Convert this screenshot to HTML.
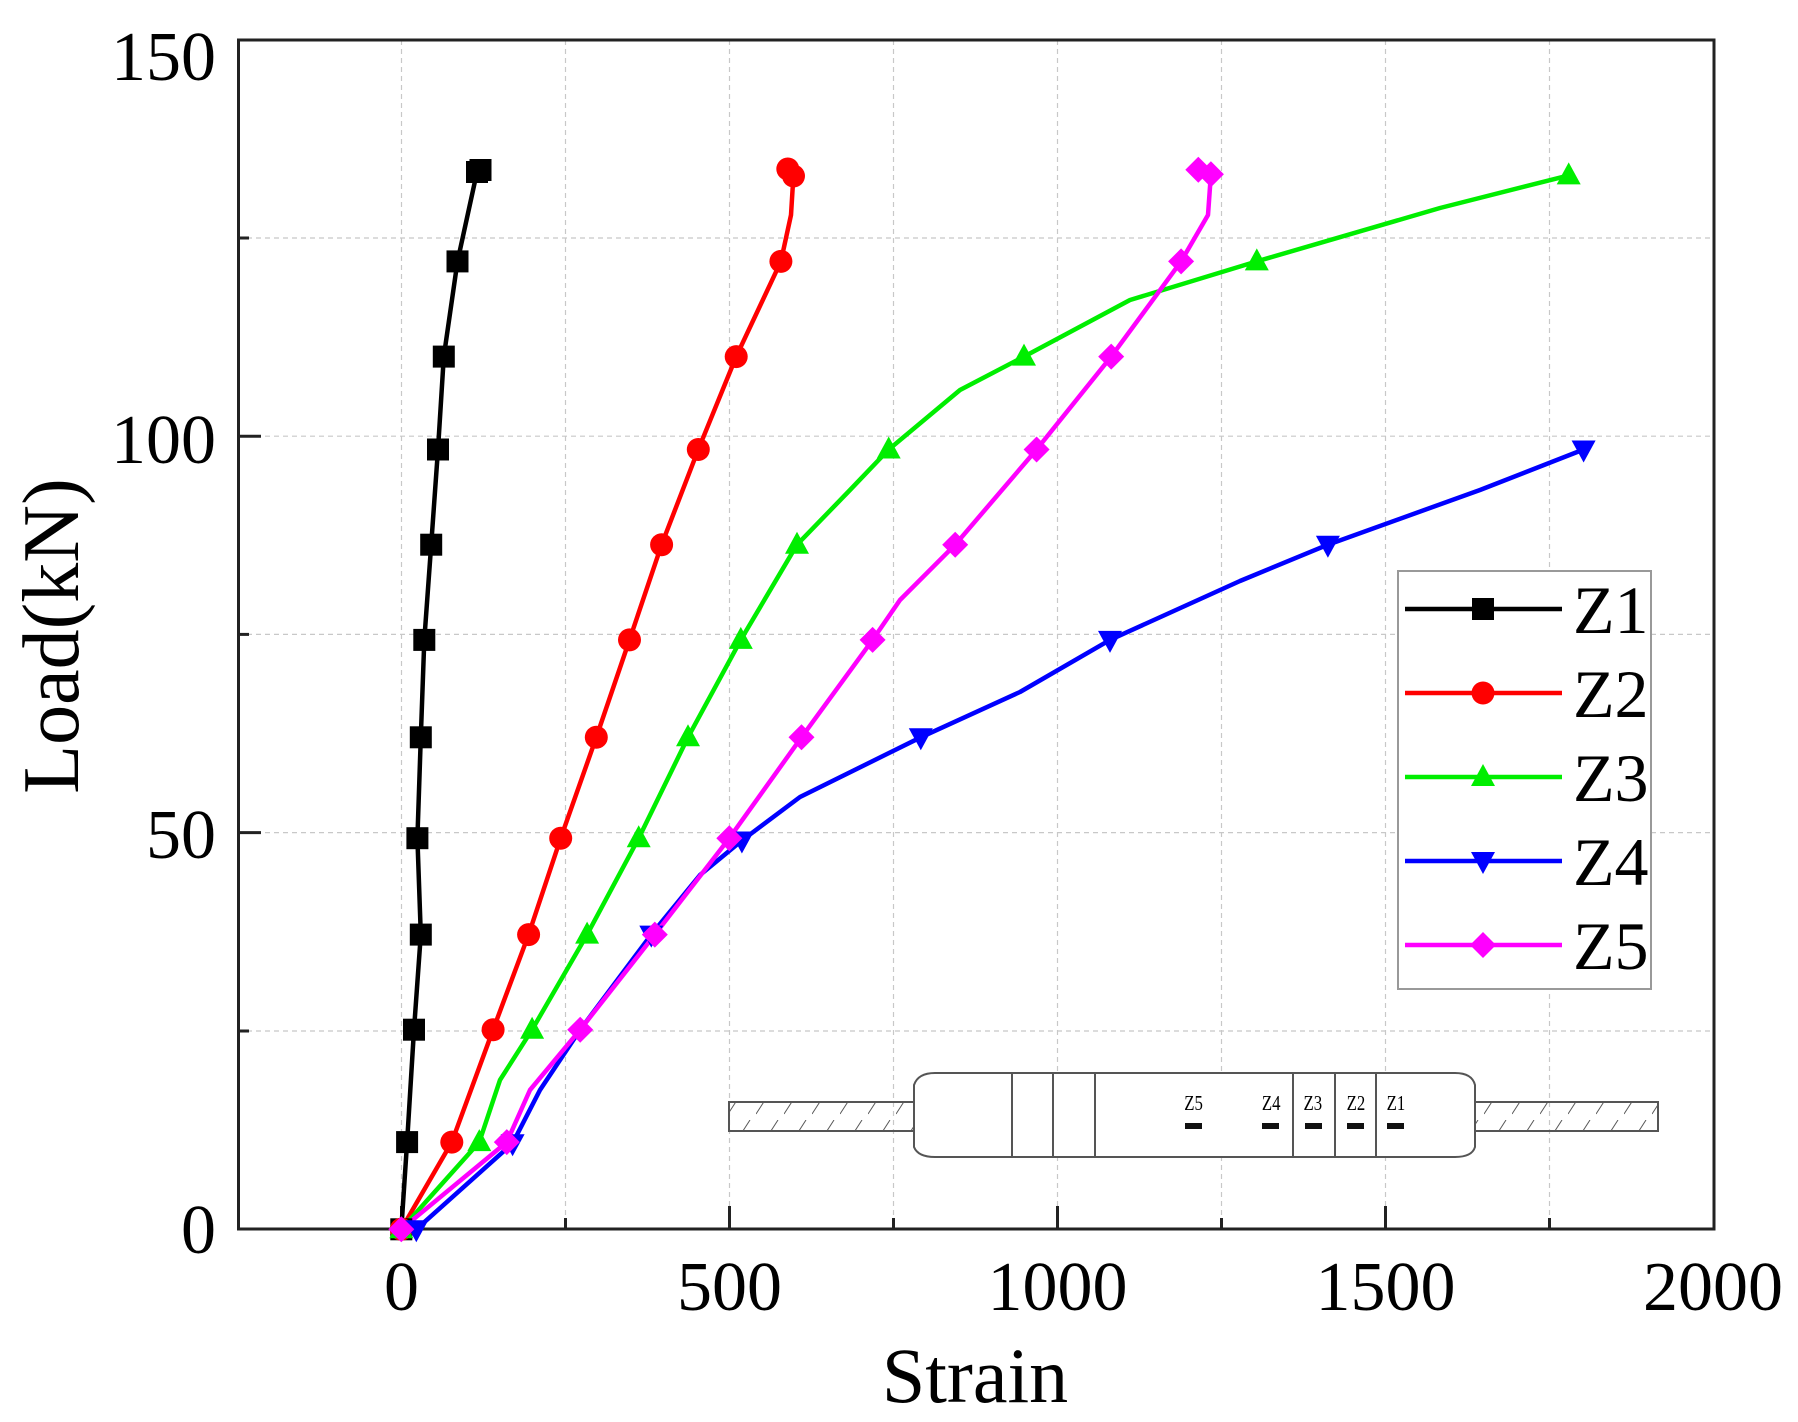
<!DOCTYPE html>
<html><head><meta charset="utf-8"><style>
html,body{margin:0;padding:0;background:#fff}
svg{display:block}
text{font-family:"Liberation Serif",serif;fill:#000}
</style></head><body>
<svg width="1798" height="1422" viewBox="0 0 1798 1422" xmlns="http://www.w3.org/2000/svg">
<defs>
<g id="sq"><rect x="-11" y="-11" width="22" height="22"/></g>
<g id="ci"><circle r="11.5"/></g>
<g id="tu"><polygon points="0,-13 12,9 -12,9"/></g>
<g id="td"><polygon points="0,13 12,-9 -12,-9"/></g>
<g id="di"><polygon points="0,-13 13,0 0,13 -13,0"/></g>
<pattern id="hatch" width="28" height="40" patternUnits="userSpaceOnUse"><line x1="0" y1="34" x2="22" y2="0" stroke="#555" stroke-width="1"/></pattern>
</defs>
<g stroke="#c8c8c8" stroke-width="1.2" stroke-dasharray="5,4">
<line x1="401.5" y1="40" x2="401.5" y2="1229"/>
<line x1="565.5" y1="40" x2="565.5" y2="1229"/>
<line x1="729.5" y1="40" x2="729.5" y2="1229"/>
<line x1="893.5" y1="40" x2="893.5" y2="1229"/>
<line x1="1057.5" y1="40" x2="1057.5" y2="1229"/>
<line x1="1221.5" y1="40" x2="1221.5" y2="1229"/>
<line x1="1385.5" y1="40" x2="1385.5" y2="1229"/>
<line x1="1549.5" y1="40" x2="1549.5" y2="1229"/>
<line x1="238" y1="1031" x2="1714" y2="1031"/>
<line x1="238" y1="832.6" x2="1714" y2="832.6"/>
<line x1="238" y1="634.4" x2="1714" y2="634.4"/>
<line x1="238" y1="436.2" x2="1714" y2="436.2"/>
<line x1="238" y1="238" x2="1714" y2="238"/>
</g>
<rect x="238.5" y="40" width="1475.5" height="1189" fill="none" stroke="#222" stroke-width="3"/>
<g stroke="#222" stroke-width="3">
<line x1="401.5" y1="1229" x2="401.5" y2="1206"/>
<line x1="565.5" y1="1229" x2="565.5" y2="1218"/>
<line x1="729.5" y1="1229" x2="729.5" y2="1206"/>
<line x1="893.5" y1="1229" x2="893.5" y2="1218"/>
<line x1="1057.5" y1="1229" x2="1057.5" y2="1206"/>
<line x1="1221.5" y1="1229" x2="1221.5" y2="1218"/>
<line x1="1385.5" y1="1229" x2="1385.5" y2="1206"/>
<line x1="1549.5" y1="1229" x2="1549.5" y2="1218"/>
<line x1="238.5" y1="1031" x2="249" y2="1031"/>
<line x1="238.5" y1="832.6" x2="261" y2="832.6"/>
<line x1="238.5" y1="634.4" x2="249" y2="634.4"/>
<line x1="238.5" y1="436.2" x2="261" y2="436.2"/>
<line x1="238.5" y1="238" x2="249" y2="238"/>
</g>
<g font-size="70" text-anchor="middle">
<text x="401.5" y="1310">0</text>
<text x="729.5" y="1310">500</text>
<text x="1057.5" y="1310">1000</text>
<text x="1385.5" y="1310">1500</text>
<text x="1713" y="1310">2000</text>
</g>
<g font-size="70" text-anchor="end">
<text x="216" y="1253">0</text>
<text x="216" y="858">50</text>
<text x="216" y="463">100</text>
<text x="216" y="80">150</text>
</g>
<text x="975" y="1402" font-size="78" text-anchor="middle">Strain</text>
<text transform="translate(78,636) rotate(-90)" font-size="80" text-anchor="middle">Load(kN)</text>

<g stroke="#555" stroke-width="2" fill="#fff">
<rect x="729" y="1102" width="186" height="29" fill="url(#hatch)"/>
<rect x="1475" y="1102" width="183" height="29" fill="url(#hatch)"/>
<path d="M914,1085 Q918,1073 935,1073 L1455,1073 Q1472,1073 1475,1085 L1475,1147 Q1472,1157 1455,1157 L935,1157 Q918,1157 914,1147 Z"/>
<line x1="1012" y1="1073" x2="1012" y2="1157"/>
<line x1="1053" y1="1073" x2="1053" y2="1157"/>
<line x1="1095" y1="1073" x2="1095" y2="1157"/>
<line x1="1293" y1="1073" x2="1293" y2="1157"/>
<line x1="1335" y1="1073" x2="1335" y2="1157"/>
<line x1="1376" y1="1073" x2="1376" y2="1157"/>
</g>
<g font-size="21" text-anchor="middle" transform="scale(0.8,1)">
<text x="1492" y="1110">Z5</text>
<text x="1589" y="1110">Z4</text>
<text x="1641" y="1110">Z3</text>
<text x="1695" y="1110">Z2</text>
<text x="1745" y="1110">Z1</text>
</g>
<g fill="#111">
<rect x="1185" y="1123" width="17" height="6"/>
<rect x="1262" y="1123" width="17" height="6"/>
<rect x="1305" y="1123" width="17" height="6"/>
<rect x="1347" y="1123" width="17" height="6"/>
<rect x="1387" y="1123" width="17" height="6"/>
</g>

<g fill="none" stroke-width="4.5" stroke-linejoin="round">
<polyline stroke="#000" points="401.3,1229.3 407.1,1142.1 414,1029.7 420.8,934.6 417.4,838.2 420.8,737.3 424.3,639.9 431.2,544.7 438,449.5 443.8,356.6 457.5,261.4 477,172 480.5,168.6"/>
<polyline stroke="#ff0000" points="401.3,1229.3 451.8,1142.1 493.1,1029.7 528.6,934.6 560.7,838.2 596.3,737.3 629.5,639.9 661.6,544.7 698.3,449.5 736.2,356.6 780.9,261.4 791,215 793.5,174.3 787.8,168.6"/>
<polyline stroke="#00ee00" points="401.3,1229.3 479.3,1142.1 500,1080 532.1,1029.7 587.1,934.6 638.7,838.2 688,737.3 740.8,639.9 797,544.7 850,490 888.7,449.5 960,390 1024,356.6 1130,300 1256.8,261.4 1440,208 1568.7,175.4"/>
<polyline stroke="#0000ff" points="416.3,1229.3 512.6,1143.3 540,1090 580.2,1029.7 651.3,934.6 700,875 741.9,840.5 800,797 920.8,737.3 1020,692 1110,639.9 1240,581 1327.9,544.7 1480,490 1583.6,449.5"/>
<polyline stroke="#ff00ff" points="401.3,1229.3 506.8,1142.1 530,1090 580.2,1029.7 654.8,934.6 729.3,838.2 801.5,737.3 872.6,639.9 900,600 955.2,544.7 1036.6,449.5 1111.2,356.6 1181.1,261.4 1208,215 1210.9,174.3 1198.3,169.7"/>
</g>
<g fill="#000">
<use href="#sq" x="401.3" y="1229.3"/><use href="#sq" x="407.1" y="1142.1"/><use href="#sq" x="414" y="1029.7"/><use href="#sq" x="420.8" y="934.6"/><use href="#sq" x="417.4" y="838.2"/><use href="#sq" x="420.8" y="737.3"/><use href="#sq" x="424.3" y="639.9"/><use href="#sq" x="431.2" y="544.7"/><use href="#sq" x="438" y="449.5"/><use href="#sq" x="443.8" y="356.6"/><use href="#sq" x="457.5" y="261.4"/><use href="#sq" x="477" y="172"/><use href="#sq" x="480.5" y="170"/>
</g>
<g fill="#ff0000">
<use href="#ci" x="401.3" y="1229.3"/><use href="#ci" x="451.8" y="1142.1"/><use href="#ci" x="493.1" y="1029.7"/><use href="#ci" x="528.6" y="934.6"/><use href="#ci" x="560.7" y="838.2"/><use href="#ci" x="596.3" y="737.3"/><use href="#ci" x="629.5" y="639.9"/><use href="#ci" x="661.6" y="544.7"/><use href="#ci" x="698.3" y="449.5"/><use href="#ci" x="736.2" y="356.6"/><use href="#ci" x="780.9" y="261.4"/><use href="#ci" x="793.5" y="176"/><use href="#ci" x="787.8" y="169"/>
</g>
<g fill="#00ee00">
<use href="#tu" x="401.3" y="1229.3"/><use href="#tu" x="479.3" y="1142.1"/><use href="#tu" x="532.1" y="1029.7"/><use href="#tu" x="587.1" y="934.6"/><use href="#tu" x="638.7" y="838.2"/><use href="#tu" x="688" y="737.3"/><use href="#tu" x="740.8" y="639.9"/><use href="#tu" x="797" y="544.7"/><use href="#tu" x="888.7" y="449.5"/><use href="#tu" x="1024" y="356.6"/><use href="#tu" x="1256.8" y="261.4"/><use href="#tu" x="1568.7" y="175.4"/>
</g>
<g fill="#0000ff">
<use href="#td" x="416.3" y="1229.3"/><use href="#td" x="512.6" y="1143.3"/><use href="#td" x="651.3" y="934.6"/><use href="#td" x="741.9" y="840.5"/><use href="#td" x="920.8" y="737.3"/><use href="#td" x="1110" y="639.9"/><use href="#td" x="1327.9" y="544.7"/><use href="#td" x="1583.6" y="449.5"/>
</g>
<g fill="#ff00ff">
<use href="#di" x="401.3" y="1229.3"/><use href="#di" x="506.8" y="1142.1"/><use href="#di" x="580.2" y="1029.7"/><use href="#di" x="654.8" y="934.6"/><use href="#di" x="729.3" y="838.2"/><use href="#di" x="801.5" y="737.3"/><use href="#di" x="872.6" y="639.9"/><use href="#di" x="955.2" y="544.7"/><use href="#di" x="1036.6" y="449.5"/><use href="#di" x="1111.2" y="356.6"/><use href="#di" x="1181.1" y="261.4"/><use href="#di" x="1210.9" y="174.3"/><use href="#di" x="1198.3" y="169.7"/>
</g>

<rect x="1398" y="571" width="253" height="418" fill="#fff" stroke="#999" stroke-width="2"/>
<g stroke-width="4.5">
<line x1="1405" y1="609" x2="1562" y2="609" stroke="#000"/>
<line x1="1405" y1="693" x2="1562" y2="693" stroke="#ff0000"/>
<line x1="1405" y1="777" x2="1562" y2="777" stroke="#00ee00"/>
<line x1="1405" y1="861" x2="1562" y2="861" stroke="#0000ff"/>
<line x1="1405" y1="945" x2="1562" y2="945" stroke="#ff00ff"/>
</g>
<use href="#sq" x="1483" y="609" fill="#000"/>
<use href="#ci" x="1483" y="693" fill="#ff0000"/>
<use href="#tu" x="1483" y="777" fill="#00ee00"/>
<use href="#td" x="1483" y="861" fill="#0000ff"/>
<use href="#di" x="1483" y="945" fill="#ff00ff"/>
<g font-size="68">
<text x="1573" y="633">Z1</text>
<text x="1573" y="717">Z2</text>
<text x="1573" y="801">Z3</text>
<text x="1573" y="885">Z4</text>
<text x="1573" y="969">Z5</text>
</g>
</svg>
</body></html>
